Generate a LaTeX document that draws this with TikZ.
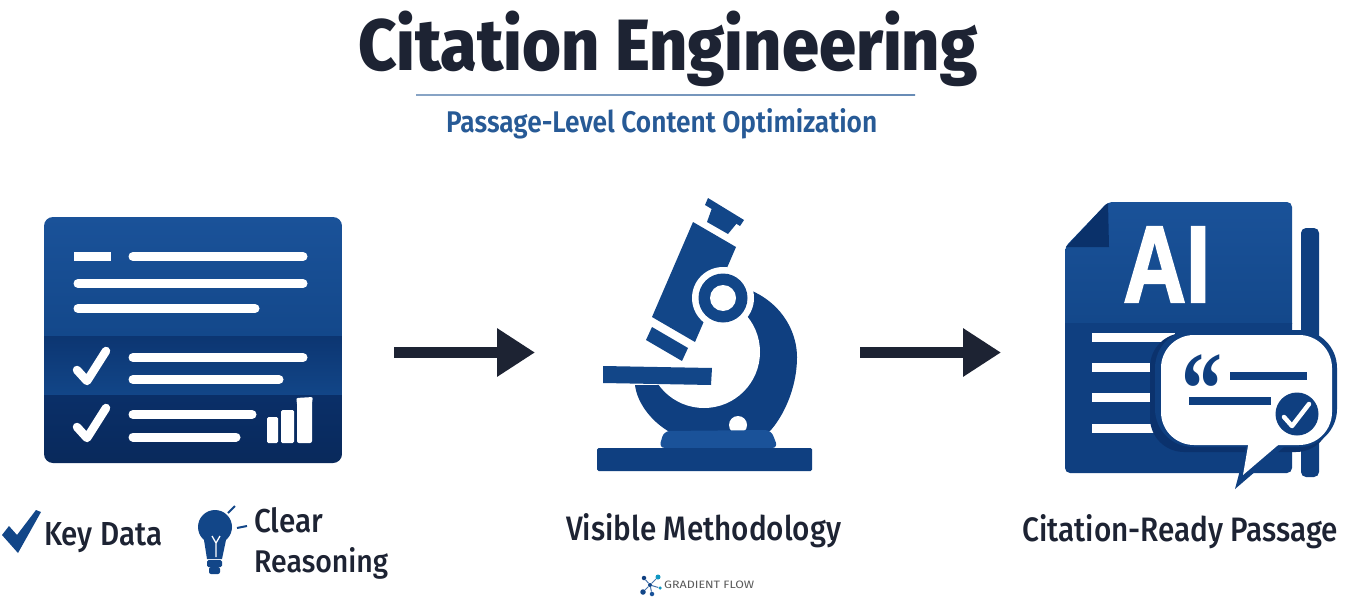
\documentclass[tikz,border=0pt]{standalone}
\usepackage{fontspec}
\setmainfont{Fira Sans Medium}
\newfontfamily\titlefont{Fira Sans ExtraBold}
\newfontfamily\subfont{Fira Sans SemiBold}
\newfontfamily\logofont{Fira Sans}
\newfontfamily\aifont[BoldFeatures={FakeBold=2.2}]{Liberation Sans}
\newfontfamily\quotefont{Liberation Serif}
\usetikzlibrary{arrows.meta}
\definecolor{ink}{HTML}{1D2333}
\definecolor{blueA}{HTML}{1A5299}
\definecolor{blueB}{HTML}{124688}
\definecolor{blueC}{HTML}{0F3F80}
\definecolor{blueD}{HTML}{0A2F68}
\definecolor{subblue}{HTML}{275A96}
\newcommand{\fittext}[3]{\resizebox{#1pt}{#2pt}{#3}}
\tikzset{
  lbl/.style={inner sep=0pt,anchor=base west,text=ink},
  bar/.style={white,line width=#1,line cap=round},
  bar/.default=9pt,
  flat/.style={white,line width=#1},
  flat/.default=9pt,
  tick/.style={white,line width=8.5pt,line cap=round,line join=round},
  flow/.style={ink,line width=11pt,-{Triangle[length=38pt,width=46pt]},shorten >=0pt},
  lognode/.style={circle,inner sep=0pt,minimum size=#1},
  net/.style={line width=1pt,draw=blueA!80}
}
\begin{document}
\begin{tikzpicture}[x=1pt,y=-1pt]
\useasboundingbox (0,0) rectangle (1346,607);
\fill[white] (0,0) rectangle (1346,607);

% title
\node[lbl] (title) at (358,70.5) {\fittext{619}{59.5}{\titlefont Citation Engineering}};
\shade[left color=subblue!55,middle color=subblue,right color=subblue!70] (416,94.4) rectangle (915,95.8);
\node[lbl,text=subblue] (subtitle) at (446,132.5) {\fittext{431}{24}{\subfont Passage-Level Content Optimization}};

% card
\begin{scope}
\clip[rounded corners=9pt] (44,217) rectangle (342,463);
\shade[top color=blueA,bottom color=blueB!85!blueA] (44,217) rectangle (342,336);
\shade[top color=blueD!60!blueC,bottom color=blueB] (44,336) rectangle (342,395);
\shade[top color=blueD,bottom color=blueD!88!black] (44,395) rectangle (342,463);
\end{scope}
\draw[flat] (74,256.5) -- (111,256.5);
\draw[bar] (133,256.5) -- (303,256.5);
\draw[bar] (78,283.5) -- (303,283.5);
\draw[bar] (78,308.5) -- (255,308.5);
\draw[bar] (133,357.5) -- (303,357.5);
\draw[bar] (133,379.5) -- (279,379.5);
\draw[bar] (133,414.5) -- (252,414.5);
\draw[bar] (133,437) -- (236,437);
\draw[tick] (77,370) -- (87,381) -- (106,351);
\draw[tick] (77,427) -- (87,438) -- (106,408);
\fill[white,rounded corners=1.5pt] (267,443) rectangle (278,417);
\fill[white,rounded corners=1.5pt] (281,443) rectangle (294,410);
\fill[white,rounded corners=2pt] (297,443) -- (297,402) -- (296,398) -- (313,397) -- (312,402) -- (312,443) -- cycle;

% labels under the card
\fill[blueB] (2,535) -- (9,526) -- (17,535) -- (36,510) -- (41,512) -- (18,553) -- cycle;
\node[lbl] (keydata) at (44,545) {\fittext{118}{23}{Key Data}};
\fill[blueB] (215,527) circle[radius=17];
\fill[blueB] (204,540) -- (226,540) -- (222,559) -- (207,559) -- cycle;
\fill[blueB,rounded corners=1.5pt] (207,560) rectangle (222,567);
\fill[blueB,rounded corners=2pt] (209,567) rectangle (220,574);
\draw[white,line width=1.3pt] (212,536) -- (216,543) -- (220,536) (216,543) -- (216,557);
\draw[blueB,line width=2pt] (228,513) -- (235,506) (237,528) -- (247,526);
\node[lbl] (clear) at (254,532) {\fittext{69}{25}{Clear}};
\node[lbl] (reasoning) at (254,572) {\fittext{134}{25}{Reasoning}};

% microscope
\fill[blueC] (750,290) .. controls (785,305) and (797,335) .. (797,357)
  .. controls (797,390) and (782,418) .. (770,431) -- (668,431)
  .. controls (650,420) and (637,402) .. (635,385) -- (659,385) -- (704,352) -- (740,325) -- cycle;
\fill[white] (704,352) circle[radius=56];
\fill[blueB] (708,198) -- (744,220) -- (740,226) -- (705,205) -- cycle;
\fill[blueB] (712,208) -- (737,223) -- (728,234) -- (707,222) -- cycle;
\fill[blueB] (693,222) -- (736,247) -- (695,342) -- (652,317) -- cycle;
\fill[blueB] (652,327) -- (688,348) -- (682,361) -- (646,340) -- cycle;
\fill[white] (723,298) circle[radius=31];
\fill[blueB] (723,298) circle[radius=24.5];
\fill[white] (723,298) circle[radius=13];
\fill[white] (738,425) circle[radius=9];
\fill[blueB] (603,366) -- (712,368) -- (711,385) -- (603,383) -- cycle;
\fill[blueA,rounded corners=6pt] (659,448) -- (664,431) -- (771,430) -- (778,448) -- cycle;
\fill[blueC,rounded corners=1.5pt] (597,448) rectangle (812,471);
\node[lbl] (method) at (566,540) {\fittext{275}{27}{Visible Methodology}};

% document
\fill[blueC,rounded corners=5pt] (1301,228) rectangle (1319,477);
\begin{scope}
\clip[rounded corners=5pt] (1108,202) -- (1292,202) -- (1292,473) -- (1065,473) -- (1065,247) -- cycle;
\shade[top color=blueA,bottom color=blueB!85!blueA] (1060,200) rectangle (1295,323);
\fill[blueC] (1060,323) rectangle (1295,475);
\fill[blueD!90!blueC] (1108,202) -- (1109,247) -- (1066,247) -- cycle;
\end{scope}
\node[lbl,text=white] (ai) at (1123,302) {\fittext{87}{75}{\aifont\bfseries AI}};
\draw[flat=9pt] (1092,337.5) -- (1175,337.5);
\draw[flat=9pt] (1092,367.5) -- (1175,367.5);
\draw[flat=9pt] (1092,397.5) -- (1175,397.5);
\draw[flat=9pt] (1092,428) -- (1175,428);
% speech bubble
\fill[blueD!80!blueC,rounded corners=34pt] (1150,333) rectangle (1330,452);
\fill[blueC,rounded corners=38pt] (1155,330) rectangle (1337,447);
\fill[blueC] (1248,440) -- (1235,489) -- (1292,440) -- cycle;
\fill[white,rounded corners=33pt] (1161,335) rectangle (1332,445);
\fill[white] (1249,440) -- (1243,475) -- (1284,440) -- cycle;
\node[lbl,text=blueC] (quote) at (1181,424) {\scalebox{0.78}[1]{\fontsize{105}{105}\selectfont\quotefont\bfseries “}};
\fill[blueC] (1230,372) rectangle (1307,380);
\fill[blueC] (1189,397) rectangle (1271,405);
\fill[blueC] (1297,414) circle[radius=21.5];
\draw[white,line width=4.5pt,line cap=round,line join=round] (1284,417) -- (1292,426) -- (1309,404);
\node[lbl] (ready) at (1022,541) {\fittext{316}{27}{Citation-Ready Passage}};

% arrows
\coordinate (a1s) at (394,352.5);
\coordinate (a1e) at (535,352.5);
\coordinate (a2s) at (860,352.5);
\coordinate (a2e) at (1001,352.5);
\draw[flow] (a1s) -- (a1e);
\draw[flow] (a2s) -- (a2e);

% logo
\node[lognode=4pt,fill=blueB] (hub) at (650,585) {};
\node[lognode=4.5pt,fill=blueC] (n1) at (644,578) {};
\node[lognode=5pt,fill=blueA!60!cyan] (n2) at (658,577) {};
\node[lognode=5.5pt,fill=blueB] (n3) at (643,592) {};
\node[lognode=4.5pt,fill=blueA] (n4) at (652,594) {};
\node[lognode=3.5pt,fill=blueA!60!cyan] (n5) at (660,588) {};
\draw[net] (hub) -- (n1) (hub) -- (n2) (hub) -- (n3) (hub) -- (n4) (hub) -- (n5);
\node[lbl,text=black!65] (logo) at (664,588) {\fittext{90}{7.5}{\logofont GRADIENT FLOW}};
\end{tikzpicture}
\end{document}
